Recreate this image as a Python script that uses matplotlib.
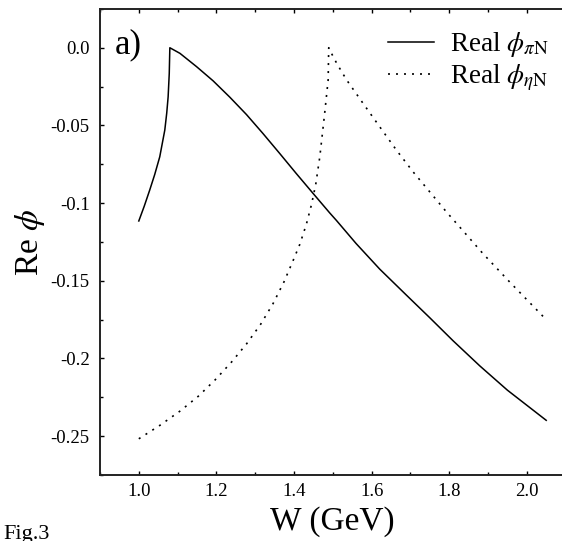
import matplotlib
matplotlib.use("Agg")
import matplotlib.pyplot as plt
from matplotlib.ticker import MultipleLocator, FuncFormatter

plt.rcParams['font.family'] = ['Liberation Serif', 'DejaVu Serif']
plt.rcParams['mathtext.fontset'] = 'stix'
plt.rcParams['axes.unicode_minus'] = False

# Re phi for the pi N channel (cusp at the pi N threshold)
w_pin = [1.000, 1.014, 1.028, 1.041, 1.054, 1.067, 1.072, 1.0756, 1.0785,
         1.080, 1.106, 1.149, 1.1915, 1.2345, 1.2775, 1.320, 1.363, 1.406,
         1.449, 1.492, 1.5095, 1.560, 1.621, 1.690, 1.750, 1.810, 1.879,
         1.950, 2.050]
re_pin = [-0.1115, -0.102, -0.0917, -0.0816, -0.0702, -0.053, -0.042,
          -0.0316, -0.0165, 0.0, -0.0036, -0.0122, -0.0213, -0.0318,
          -0.0430, -0.0552, -0.068, -0.081, -0.0937, -0.1063, -0.1112,
          -0.126, -0.1425, -0.1593, -0.1738, -0.1886, -0.2048, -0.2204,
          -0.2398]

# Re phi for the eta N channel (cusp at the eta N threshold)
w_etan = [1.000, 1.054, 1.106, 1.153, 1.197, 1.239, 1.278, 1.314, 1.346,
          1.374, 1.398, 1.415, 1.432, 1.445, 1.456, 1.4665, 1.479, 1.488,
          1.4895, 1.497, 1.510, 1.535, 1.578, 1.621, 1.664, 1.707, 1.750,
          1.793, 1.832, 1.887, 1.956, 2.050]
re_etan = [-0.2517, -0.2431, -0.2339, -0.2244, -0.2137, -0.2023, -0.1905,
           -0.178, -0.1647, -0.1508, -0.1368, -0.1265, -0.1135, -0.1010,
           -0.088, -0.0702, -0.0423, -0.0208, 0.0, -0.0038, -0.010, -0.0205,
           -0.0358, -0.0509, -0.0659, -0.0799, -0.0928, -0.1057, -0.1168,
           -0.1325, -0.1508, -0.175]

W, H = 562, 541
fig = plt.figure(figsize=(W / 100, H / 100), dpi=100)
# axes box in pixels: left 100, bottom 475, right edge runs just past the canvas
ax = fig.add_axes([100 / W, 1 - 475 / H, 465.6 / W, 466.1 / H])

dots = (0, (1.2, 3.6))
ax.plot(w_pin, re_pin, color='black', lw=1.1, label=r'Real $\phi_{\pi\mathrm{N}}$')
ax.plot(w_etan, re_etan, color='black', lw=1.2, linestyle=dots,
        label=r'Real $\phi_{\eta\mathrm{N}}$')

ax.set_xlim(0.9, 2.1)
ax.set_ylim(-0.275, 0.025)

ax.xaxis.set_major_locator(MultipleLocator(0.2))
ax.xaxis.set_minor_locator(MultipleLocator(0.1))
ax.yaxis.set_major_locator(MultipleLocator(0.05))
ax.yaxis.set_minor_locator(MultipleLocator(0.025))
ax.xaxis.set_major_formatter(FuncFormatter(lambda v, p: f'{v:.1f}'))
ax.yaxis.set_major_formatter(
    FuncFormatter(lambda v, p: '0.0' if abs(v) < 1e-9 else f'{v:g}'))

ax.tick_params(which='both', direction='in', top=True, right=False,
               width=1.0, labelsize=13.5)
ax.tick_params(which='major', length=3.2)
ax.tick_params(which='minor', length=2.0)
ax.tick_params(axis='y', pad=7.5)
ax.tick_params(axis='x', pad=6)

for side in ax.spines.values():
    side.set_linewidth(1.4)
    side.set_color('#222222')

ax.set_xlabel('W (GeV)', fontsize=24, va='center')
ax.xaxis.set_label_coords(0.5, -47 / 466.1)
ax.set_ylabel(r'Re $\phi$', fontsize=24, va='center')
ax.yaxis.set_label_coords(-70 / 465.6, 0.5)

ax.legend(loc='upper left', bbox_to_anchor=(388 / W, 1 - 30 / H),
          bbox_transform=fig.transFigure, frameon=False, fontsize=19.5,
          handlelength=1.7, handletextpad=0.6, labelspacing=0.15,
          borderpad=0, borderaxespad=0)

fig.text(115 / W, 1 - 45 / H, 'a)', fontsize=25, va='center', ha='left')
fig.text(3 / W, 2 / H, 'Fig.3', fontsize=16, va='baseline', ha='left')

fig.savefig('out.png', dpi=100)
